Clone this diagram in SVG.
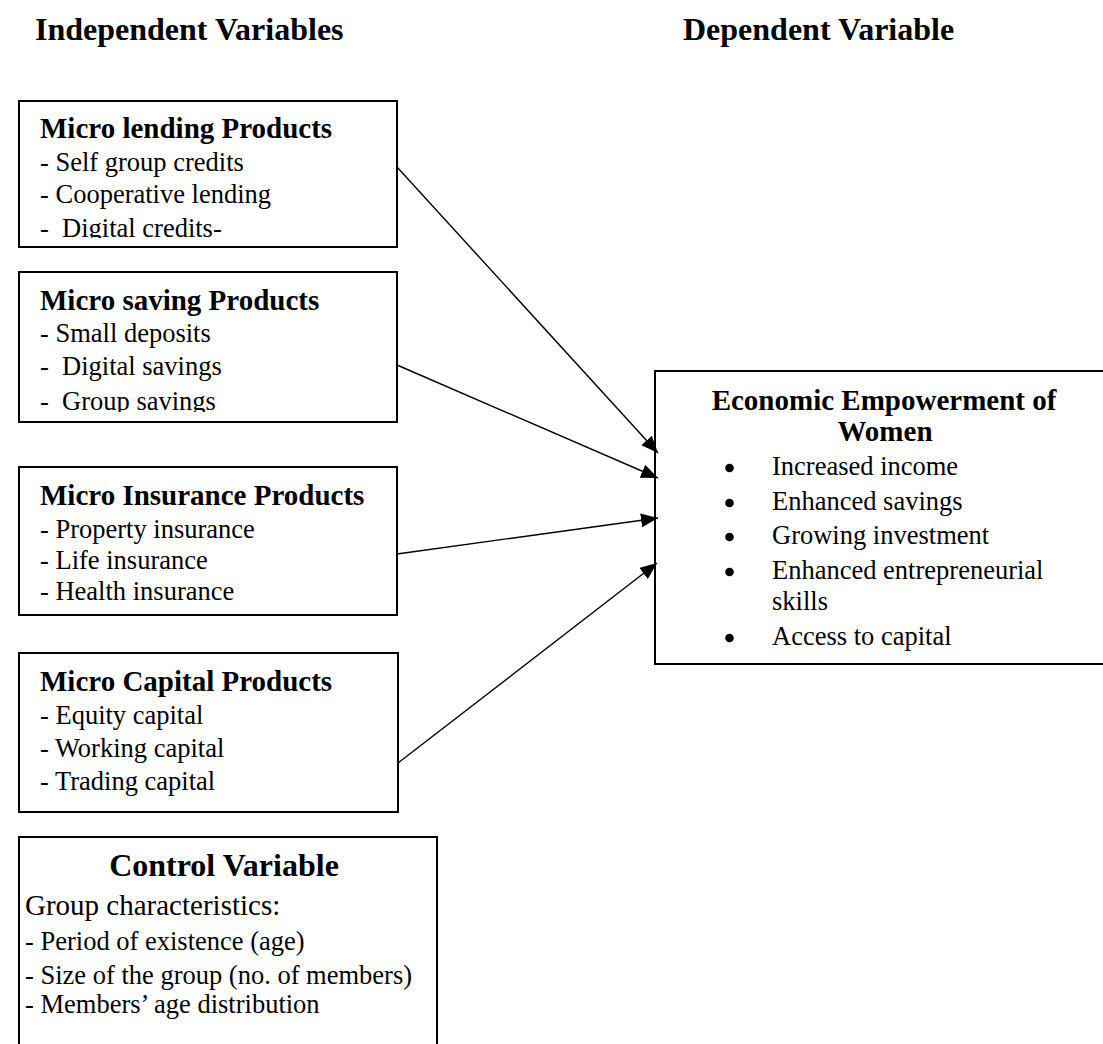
<svg xmlns="http://www.w3.org/2000/svg" width="1103" height="1044" viewBox="0 0 1103 1044">
<style>
  text { font-family: "Liberation Serif", "Times New Roman", serif; fill: #000; }
  .hdr { font-size: 32px; font-weight: bold; }
  .ttl { font-size: 29px; font-weight: bold; }
  .body { font-size: 26.5px; }
  .box { fill: #fff; stroke: #000; stroke-width: 2; }
  .bullet { fill: #000; }
  .conn { stroke: #000; stroke-width: 1.4; fill: none; marker-end: url(#arrow); }
</style>
<defs>
  <marker id="arrow" markerUnits="userSpaceOnUse" markerWidth="18" markerHeight="15" refX="17" refY="7" orient="auto">
    <path d="M0,0 L17,7 L0,14 z" fill="#000"/>
  </marker>
  <clipPath id="clip1"><rect x="19" y="101" width="378" height="137"/></clipPath>
  <clipPath id="clip2"><rect x="19" y="272" width="378" height="140"/></clipPath>
</defs>
<rect width="1103" height="1044" fill="#fff"/>

<g id="headers">
  <text class="hdr" x="35" y="40">Independent Variables</text>
  <text class="hdr" x="683" y="40">Dependent Variable</text>
</g>

<g id="node-lending">
  <rect class="box" x="19" y="101" width="378" height="146"/>
  <g clip-path="url(#clip1)">
    <text class="ttl" x="40" y="138">Micro lending Products</text>
    <text class="body" x="40" y="171">- Self group credits</text>
    <text class="body" x="40" y="203">- Cooperative lending</text>
    <text class="body" x="40" y="237" xml:space="preserve">-  Digital credits-</text>
  </g>
</g>

<g id="node-saving">
  <rect class="box" x="19" y="272" width="378" height="150"/>
  <g clip-path="url(#clip2)">
    <text class="ttl" x="40" y="310">Micro saving Products</text>
    <text class="body" x="40" y="342">- Small deposits</text>
    <text class="body" x="40" y="375" xml:space="preserve">-  Digital savings</text>
    <text class="body" x="40" y="410" xml:space="preserve">-  Group savings</text>
  </g>
</g>

<g id="node-insurance">
  <rect class="box" x="19" y="467" width="378" height="148"/>
  <text class="ttl" x="40" y="505">Micro Insurance Products</text>
  <text class="body" x="40" y="538">- Property insurance</text>
  <text class="body" x="40" y="569">- Life insurance</text>
  <text class="body" x="40" y="600">- Health insurance</text>
</g>

<g id="node-capital">
  <rect class="box" x="19" y="653" width="379" height="159"/>
  <text class="ttl" x="40" y="691">Micro Capital Products</text>
  <text class="body" x="40" y="724">- Equity capital</text>
  <text class="body" x="40" y="757">- Working capital</text>
  <text class="body" x="40" y="790">- Trading capital</text>
</g>

<g id="node-control">
  <rect class="box" x="19" y="837" width="418" height="230"/>
  <text class="hdr" x="224" y="876" text-anchor="middle">Control Variable</text>
  <text class="body" x="25" y="915" style="font-size:29px">Group characteristics:</text>
  <text class="body" x="25" y="950">- Period of existence (age)</text>
  <text class="body" x="25" y="984">- Size of the group (no. of members)</text>
  <text class="body" x="25" y="1013">- Members’ age distribution</text>
</g>

<g id="node-empowerment">
  <rect class="box" x="655" y="371" width="450" height="293"/>
  <text class="ttl" x="884" y="410" text-anchor="middle">Economic Empowerment of</text>
  <text class="ttl" x="885" y="441" text-anchor="middle">Women</text>
  <circle class="bullet" cx="729.5" cy="468" r="4.3"/>
  <text class="body" x="772" y="475">Increased income</text>
  <circle class="bullet" cx="729.5" cy="503" r="4.3"/>
  <text class="body" x="772" y="510">Enhanced savings</text>
  <circle class="bullet" cx="729.5" cy="537" r="4.3"/>
  <text class="body" x="772" y="544">Growing investment</text>
  <circle class="bullet" cx="729.5" cy="572" r="4.3"/>
  <text class="body" x="772" y="579">Enhanced entrepreneurial</text>
  <text class="body" x="772" y="610">skills</text>
  <circle class="bullet" cx="729.5" cy="638" r="4.3"/>
  <text class="body" x="772" y="645">Access to capital</text>
</g>

<g id="connectors">
  <line class="conn" x1="397" y1="167" x2="658" y2="453"/>
  <line class="conn" x1="397" y1="365" x2="658" y2="478"/>
  <line class="conn" x1="397" y1="554" x2="658" y2="518"/>
  <line class="conn" x1="398" y1="763" x2="657" y2="563"/>
</g>
</svg>
